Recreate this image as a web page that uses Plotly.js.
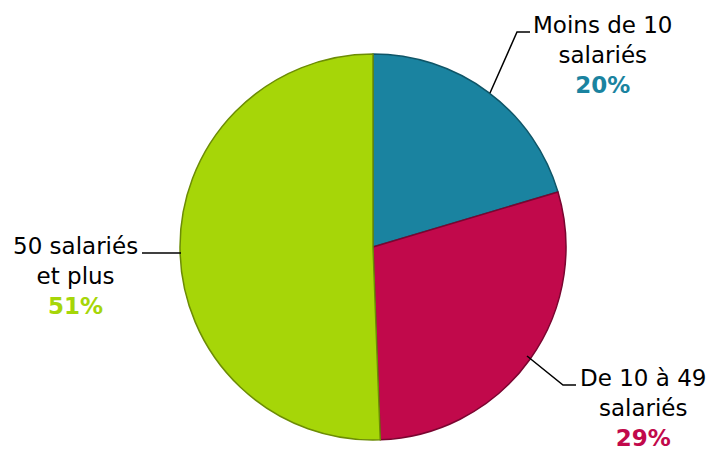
<!DOCTYPE html>
<html>
<head>
<meta charset="utf-8">
<script src="https://cdn.plot.ly/plotly-3.0.1.min.js"></script>
<style>html,body{margin:0;padding:0;background:#fff;}#chart{width:721px;height:452px;}</style>
</head>
<body>
<div id="chart"></div>
<script>
const categories = ["Moins de 10<br>salariés", "De 10 à 49<br>salariés", "50 salariés<br>et plus"];
const values = [20.4, 29.0, 50.6];
const percentLabels = ["20%", "29%", "51%"];
const colors = ["#1A83A0", "#C1094B", "#A6D608"];
const edgeColors = ["#0F5567", "#7A0530", "#6C8C05"];

const W = 721, H = 452;
const px = x => x / W;
const py = y => 1 - y / H;

const trace = {
  type: "pie",
  labels: categories,
  values: values,
  sort: false,
  direction: "clockwise",
  rotation: 0,
  textinfo: "none",
  hoverinfo: "label+percent",
  marker: {colors: colors, line: {color: edgeColors, width: 1.5}},
  domain: {x: [px(180), px(566)], y: [py(440), py(54)]},
  showlegend: false
};

const pos = [
  {x: 603, y: 55},
  {x: 643, y: 408},
  {x: 75, y: 276}
];
const annotations = categories.map((c, i) => ({
  xref: "paper", yref: "paper",
  x: px(pos[i].x), y: py(pos[i].y),
  xanchor: "center", yanchor: "middle",
  showarrow: false,
  align: "center",
  text: c + "<br><b><span style='color:" + colors[i] + "'>" + percentLabels[i] + "</span></b>",
  font: {family: "DejaVu Sans, Verdana, sans-serif", size: 23, color: "#000"}
}));

const leader = (pts) => ({
  type: "path", xref: "paper", yref: "paper",
  path: "M " + pts.map(p => px(p[0]) + "," + py(p[1])).join(" L "),
  line: {color: "#000", width: 1.5}
});

const layout = {
  width: W, height: H,
  margin: {l: 0, r: 0, t: 0, b: 0},
  paper_bgcolor: "#fff",
  annotations: annotations,
  shapes: [
    leader([[490, 93], [517, 32], [530, 32]]),
    leader([[527, 356], [563, 385], [576, 385]]),
    leader([[142, 253], [181, 253]])
  ]
};

Plotly.newPlot("chart", [trace], layout, {displayModeBar: false, staticPlot: true});
</script>
</body>
</html>
